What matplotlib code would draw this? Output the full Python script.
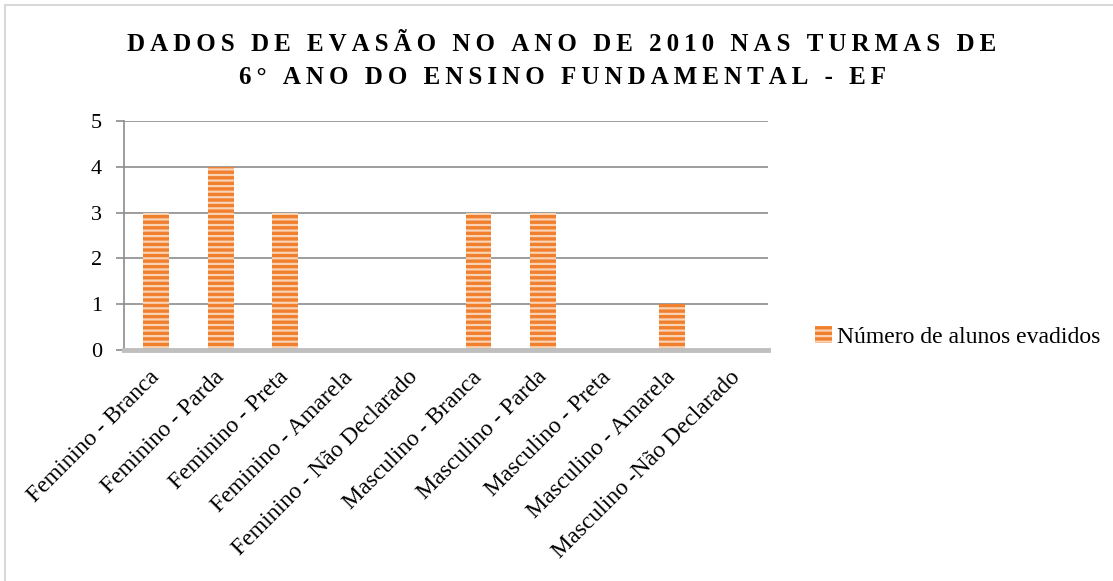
import matplotlib
matplotlib.use('Agg')
import matplotlib.pyplot as plt
import matplotlib.transforms as mtransforms
from matplotlib.patches import Patch

# Dados do gráfico
categorias = ['Feminino - Branca', 'Feminino - Parda', 'Feminino - Preta', 'Feminino - Amarela',
              'Feminino - Não Declarado', 'Masculino - Branca', 'Masculino - Parda',
              'Masculino - Preta', 'Masculino - Amarela', 'Masculino -Não Declarado']
alunos_evadidos = [3, 4, 3, 0, 0, 3, 3, 0, 1, 0]
yticks = [0, 1, 2, 3, 4, 5]
titulo = ['DADOS DE EVASÃO NO ANO DE 2010 NAS TURMAS DE', '6° ANO DO ENSINO FUNDAMENTAL - EF']
legenda = 'Número de alunos evadidos'

plt.rcParams['font.family'] = ['Liberation Serif', 'DejaVu Serif']
plt.rcParams['hatch.linewidth'] = 1.6

fig = plt.figure(figsize=(11.13, 5.81), dpi=100)
ax = fig.add_axes([0.1114, 0.3976, 0.579, 0.3941])

laranja = '#F07F2E'
claro = '#FAD2B4'
x = range(len(categorias))
ax.bar(x, alunos_evadidos, width=0.40, color=laranja, edgecolor=claro, linewidth=0,
       hatch='---', zorder=3)

ax.set_xlim(-0.5, len(categorias) - 0.5)
ax.set_ylim(0, 5)
ax.set_yticks(yticks)
ax.set_yticklabels([str(v) for v in yticks], fontsize=16)
ax.set_xticks(list(x))
ax.set_xticklabels(categorias, rotation=45, ha='right', rotation_mode='anchor', fontsize=17)
ax.tick_params(axis='x', length=0, pad=12)
ax.tick_params(axis='y', length=6, color='#8C8C8C', width=1.2, pad=10)
ax.grid(axis='y', color='#8C8C8C', linewidth=1.2, zorder=0)

# desloca os rótulos do eixo x um pouco para a esquerda
desloc = mtransforms.ScaledTranslation(-7 / 100, 0, fig.dpi_scale_trans)
for lbl in ax.get_xticklabels():
    lbl.set_transform(lbl.get_transform() + desloc)

for s in ['top', 'right']:
    ax.spines[s].set_visible(False)
ax.spines['left'].set_color('#8C8C8C')
ax.spines['left'].set_linewidth(1.2)
ax.spines['bottom'].set_color('#BFBFBF')
ax.spines['bottom'].set_linewidth(3.5)
ax.spines['bottom'].set_zorder(4)

# título com espaçamento entre letras
def espacar(t):
    return '\u2009'.join(t).replace('\u2009 \u2009', '\u2009 \u2009')

fig.text(0.505, 0.924, espacar(titulo[0]), ha='center', va='center', fontsize=18,
         fontweight='bold')
fig.text(0.505, 0.867, espacar(titulo[1]), ha='center', va='center', fontsize=18,
         fontweight='bold')

handle = Patch(facecolor=laranja, edgecolor=claro, hatch='---', linewidth=0)
fig.legend([handle], [legenda], loc='center left', bbox_to_anchor=(0.724, 0.42),
           frameon=False, fontsize=17, handlelength=0.7, handleheight=0.7,
           handletextpad=0.2, borderaxespad=0)

# borda do gráfico (apenas esquerda e topo visíveis)
fig.add_artist(plt.Line2D([0.0045, 0.0045], [0, 0.991], color='#D9D9D9', linewidth=1.5))
fig.add_artist(plt.Line2D([0.0045, 1], [0.991, 0.991], color='#D9D9D9', linewidth=1.5))

fig.savefig('out.png', dpi=100)
